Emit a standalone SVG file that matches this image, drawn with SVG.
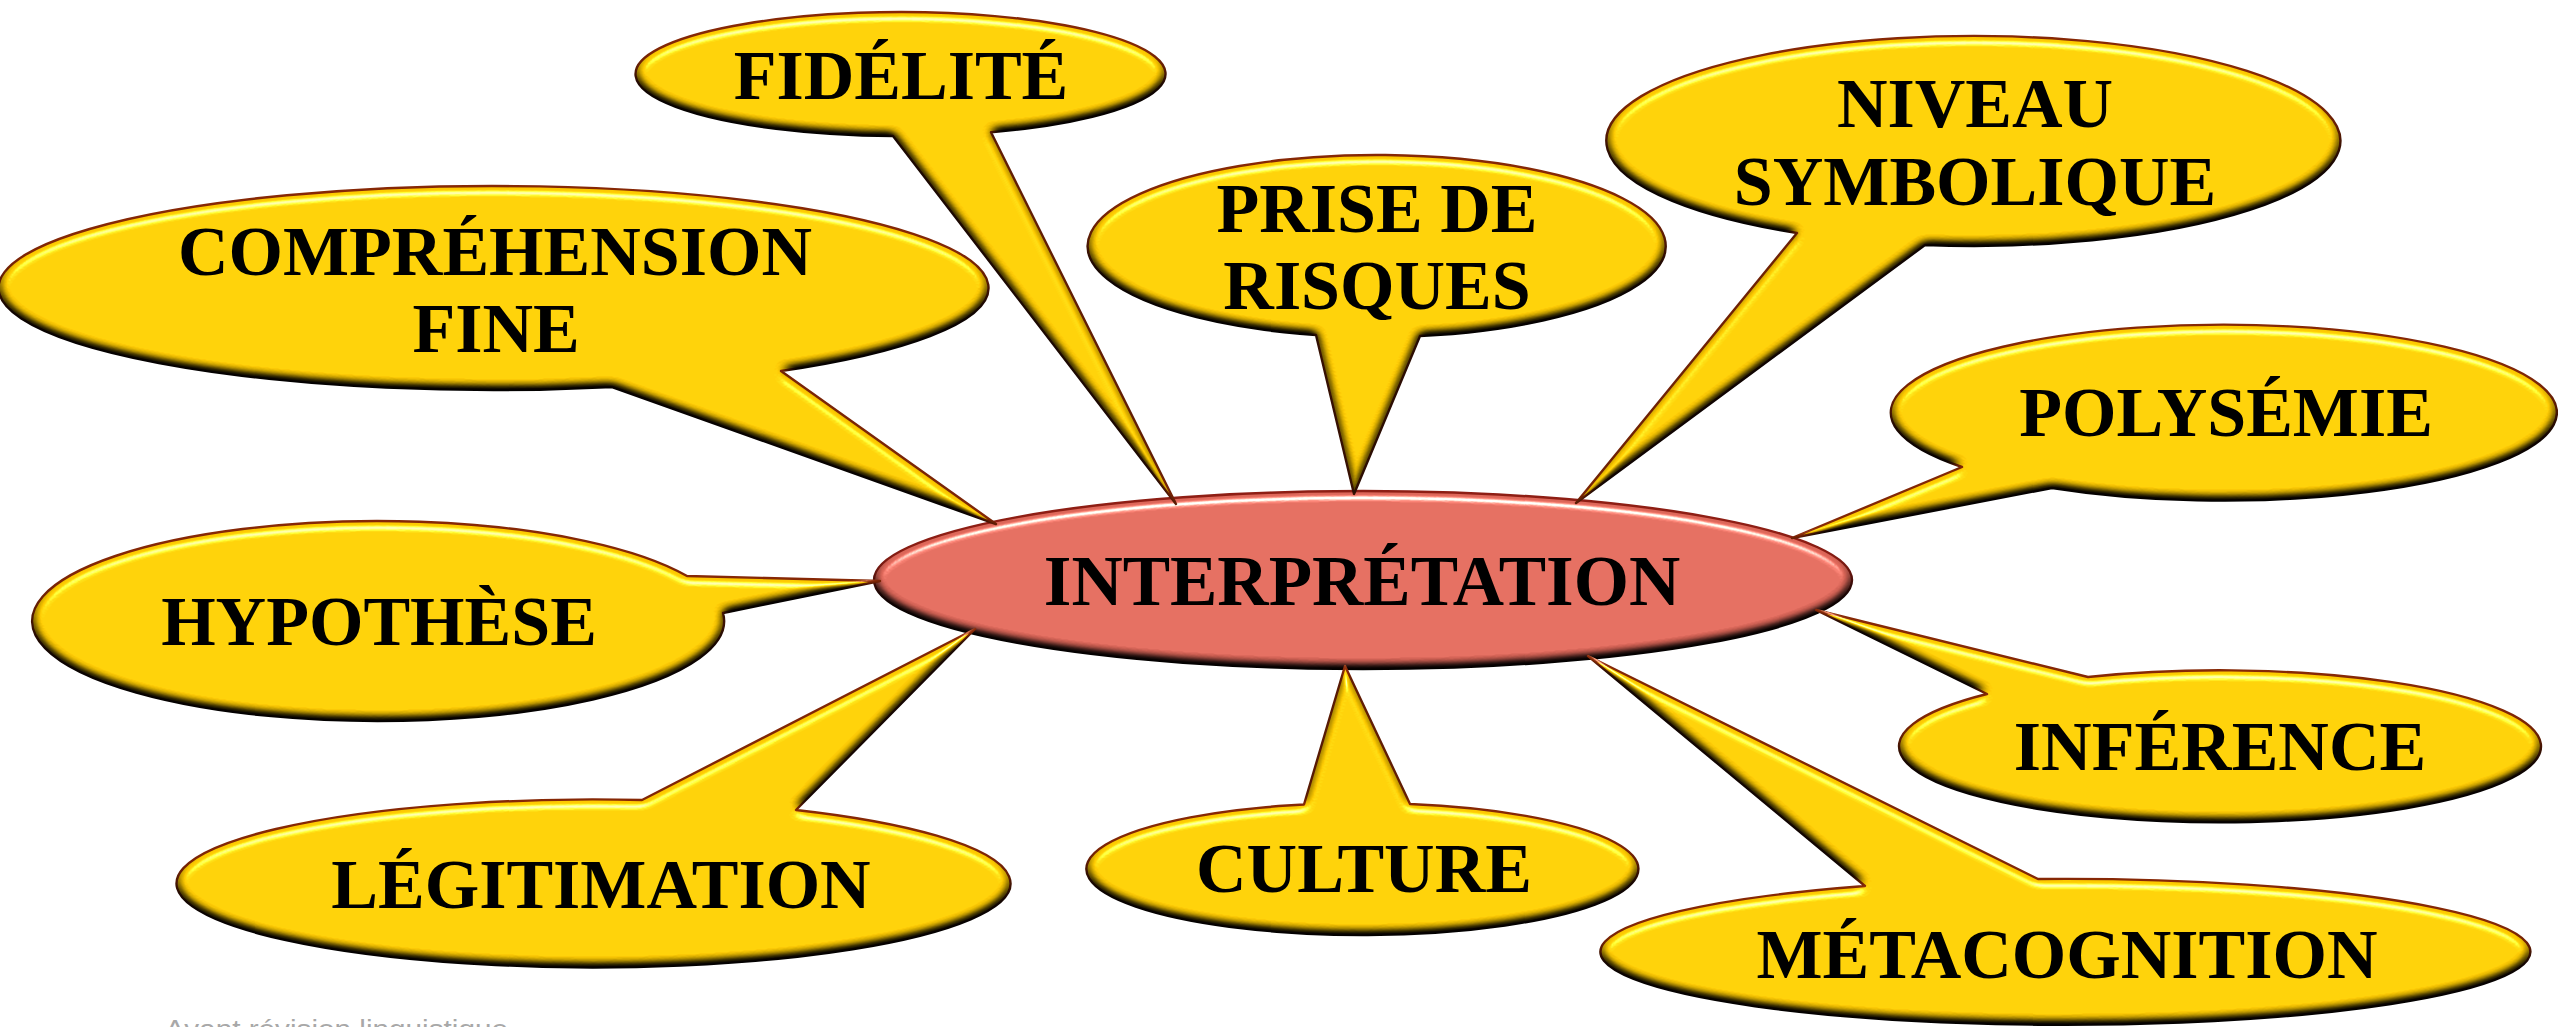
<svg xmlns="http://www.w3.org/2000/svg" width="2560" height="1027" viewBox="0 0 2560 1027">
<defs>
<style>
.bub{fill:#FCC900;stroke:#862806;stroke-width:2.4;stroke-linejoin:round;filter:url(#bev)}
.core{fill:#DC6658;stroke:#8E1E14;stroke-width:2.4;filter:url(#bev)}
.lbl{font-family:"Liberation Serif","Times New Roman",serif;font-weight:bold;font-size:70px;fill:#000;text-anchor:middle}
.big{font-size:71px}
.note{font-family:"Liberation Sans","DejaVu Sans",sans-serif;font-size:25px;fill:#A8A8A8}
</style>
<filter id="bev" x="-5%" y="-10%" width="110%" height="120%" color-interpolation-filters="sRGB">
<feGaussianBlur in="SourceAlpha" stdDeviation="5" result="b"/>
<feDiffuseLighting in="b" surfaceScale="10" diffuseConstant="1.15" lighting-color="#ffffff" result="d"><feDistantLight azimuth="270" elevation="60"/></feDiffuseLighting>
<feComposite in="SourceGraphic" in2="d" operator="arithmetic" k1="1" k2="0" k3="0" k4="0" result="lit"/>
<feSpecularLighting in="b" surfaceScale="10" specularConstant="0.7" specularExponent="35" lighting-color="#ffffff" result="s"><feDistantLight azimuth="270" elevation="45"/></feSpecularLighting>
<feComposite in="s" in2="SourceAlpha" operator="in" result="s2"/>
<feComposite in="lit" in2="s2" operator="arithmetic" k1="0" k2="1" k3="1" k4="0"/>
</filter>
</defs>
<rect width="2560" height="1027" fill="#FFFFFF"/>

<g id="interpretation">
<ellipse class="core" cx="1363" cy="580" rx="489" ry="89"/>
<text class="lbl big" x="1362" y="605">INTERPRÉTATION</text>
</g>

<g id="fidelite">
<path class="bub" d="M 893 136 A 265 62 0 1 1 991 132.3 L 1176 504 Z"/>
<text class="lbl" x="901" y="99">FIDÉLITÉ</text>
</g>

<g id="comprehension-fine">
<path class="bub" d="M 612 387 A 495 102 0 1 1 781 371 L 996 524 Z"/>
<text class="lbl" x="495" y="275">COMPRÉHENSION</text>
<text class="lbl" x="496" y="352">FINE</text>
</g>

<g id="prise-de-risques">
<path class="bub" d="M 1316 335 A 289 91 0 1 1 1420 336 L 1354 494 Z"/>
<text class="lbl" x="1377" y="232">PRISE DE</text>
<text class="lbl" x="1377" y="309">RISQUES</text>
</g>

<g id="niveau-symbolique">
<path class="bub" d="M 1797 233 A 367 105 0 1 1 1925 245 L 1576 503 Z"/>
<text class="lbl" x="1975" y="127">NIVEAU</text>
<text class="lbl" x="1975" y="205">SYMBOLIQUE</text>
</g>

<g id="polysemie">
<path class="bub" d="M 1962 467 A 333 88 0 1 1 2052 488 L 1792 538 Z"/>
<text class="lbl" x="2226" y="436">POLYSÉMIE</text>
</g>

<g id="hypothese">
<path class="bub" d="M 723 613 A 346 100 0 1 1 687 576 L 880 581 Z"/>
<text class="lbl" x="379" y="645">HYPOTHÈSE</text>
</g>

<g id="legitimation">
<path class="bub" d="M 796 810 A 417 84 0 1 1 642 800 L 975 629 Z"/>
<text class="lbl" x="601" y="908">LÉGITIMATION</text>
</g>

<g id="culture">
<path class="bub" d="M 1410 804 A 276 66 0 1 1 1304 804.5 L 1345 666 Z"/>
<text class="lbl" x="1364" y="892">CULTURE</text>
</g>

<g id="inference">
<path class="bub" d="M 2088 677 A 321 76 0 1 1 1987 694 L 1816 610 Z"/>
<text class="lbl" x="2220" y="770">INFÉRENCE</text>
</g>

<g id="metacognition">
<path class="bub" d="M 2038 879 A 465 73 0 1 1 1865 886 L 1588 656 Z"/>
<text class="lbl" x="2067" y="978">MÉTACOGNITION</text>
</g>

<text class="note" x="165" y="1038" textLength="343" lengthAdjust="spacingAndGlyphs">Avant révision linguistique</text>
</svg>
